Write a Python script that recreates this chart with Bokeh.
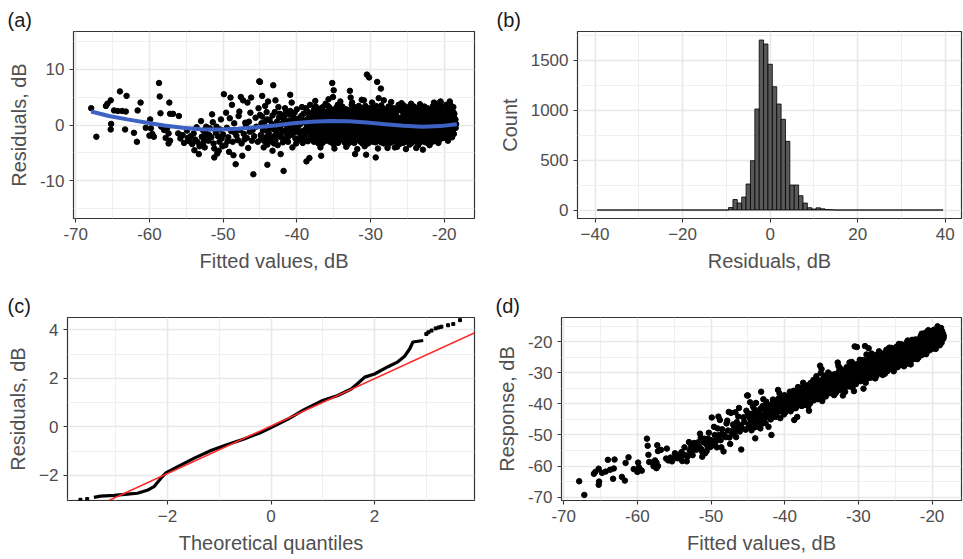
from bokeh.plotting import figure
from bokeh.layouts import column, row
from bokeh.models import FixedTicker, Range1d, Slope
from bokeh.embed import file_html
from bokeh.resources import INLINE

FONT = "Liberation Sans"

# ---------------- data: fitted values (dB) and residuals (dB) ----------------
pts_sparse = [
    (-67.9, 3.0), (-67.2, -2.1), (-65.9, 3.4), (-65.7, 3.8), (-65.25, 4.4), (-64.8, 2.6), (-65.2, 0.2),
    (-65.25, -0.8), (-64.0, 6.0), (-63.1, 5.2), (-64.3, 2.5), (-63.3, -0.8), (-63.7, 2.5), (-63.2, 2.4),
    (-62.1, -1.4), (-61.7, -3.0), (-61.2, 4.0), (-61.6, 2.6), (-60.5, -0.5), (-59.9, 1.0), (-59.8, -0.6),
    (-59.6, -1.6), (-59.4, -2.1), (-60.0, -1.9), (-58.7, 7.5), (-58.6, 5.1), (-58.5, 2.1), (-58.4, -0.3),
    (-58.0, -0.9), (-57.6, -0.6), (-57.4, -1.5), (-57.8, -2.3), (-57.3, 4.0), (-57.2, 2.0), (-56.8, 2.0),
    (-57.2, -2.8), (-57.4, -3.3), (-56.0, 1.6), (-56.1, -1.5), (-55.8, -2.4), (-55.5, -1.8), (-55.3, -3.2),
    (-54.9, -1.0), (-54.8, -2.3), (-54.6, -2.9), (-54.4, -2.0),
]
pts_mid = [
    (-53.0, 0.7), (-53.5, -3.0), (-53.2, -3.8), (-53.3, -5.2), (-52.7, -3.2), (-52.5, -4.0), (-52.7, -1.0),
    (-52.4, -1.3), (-52.2, -1.7), (-51.5, 1.9), (-51.2, -5.8), (-50.9, -0.3), (-50.7, -2.0), (-50.5, -3.0),
    (-50.4, -0.8), (-50.2, -2.4), (-49.9, 5.5), (-51.2, -4.2), (-50.8, -5.1), (-49.0, 4.9), (-48.3, -7.0),
    (-47.6, 5.0), (-47.4, -5.5), (-46.7, 4.0), (-46.3, 2.2), (-46.5, 0.6), (-46.0, -0.9), (-46.1, -2.8),
    (-45.9, -8.8), (-45.1, 7.8), (-54.0, -1.5), (-53.8, -2.6), (-53.6, -0.4), (-52.9, -2.1), (-52.0, -2.8),
    (-51.8, -0.6), (-51.6, -2.2), (-51.3, -3.3), (-51.0, -1.4), (-50.0, -1.7), (-49.7, -3.6), (-49.5, -0.5),
    (-49.3, -2.2), (-49.1, 1.2), (-48.9, -1.1), (-48.7, -3.0), (-48.5, 0.3), (-48.2, -1.9), (-48.0, -2.7),
    (-47.8, 2.4), (-47.7, -0.9), (-47.5, -3.3), (-47.2, -1.6), (-47.0, 0.4), (-46.8, -2.3), (-46.6, -4.1),
    (-46.4, -1.2), (-45.8, -2.0), (-45.6, 1.3), (-45.5, -0.3), (-45.3, -3.0), (-45.2, 3.0), (-49.6, 2.2),
    (-48.8, 3.6), (-47.9, 1.6), (-50.3, 1.0), (-51.4, 0.5), (-52.3, -0.3), (-53.9, -4.5), (-50.6, -4.6),
    (-49.2, -4.8), (-48.6, -5.4), (-47.3, 4.4), (-46.2, 4.9), (-49.4, -2.9), (-48.4, -1.4), (-47.1, -2.6),
    (-46.9, -0.2), (-50.1, -3.8), (-52.6, -2.5), (-51.9, -1.8), (-54.2, -3.4),
]
pts_band = [
    (-45.0, 7.7), (-43.2, 7.1), (-44.7, 5.2), (-44.0, -7.1), (-41.8, -8.2), (-42.2, -5.2), (-40.9, 5.4),
    (-44.3, 3.4), (-44.0, 1.0), (-43.8, -1.5), (-43.6, -2.9), (-43.4, 0.2), (-43.0, 2.3), (-42.8, -1.0),
    (-42.6, -3.6), (-42.4, 1.4), (-42.1, -2.2), (-41.9, 0.4), (-41.6, 3.0), (-41.4, -1.5), (-41.2, -3.0),
    (-41.0, 1.9), (-40.8, -0.6), (-40.6, -4.0), (-40.4, 0.9), (-40.2, -2.4), (-40.0, 2.8), (-39.8, -0.2),
    (-39.6, -1.4), (-39.4, 1.6), (-39.2, -3.2), (-39.0, 0.5), (-38.8, -1.8), (-38.6, 2.5), (-38.4, -0.9),
    (-38.3, -5.9), (-38.7, -6.5), (-38.2, 3.6), (-44.5, -4.0), (-44.2, -2.2), (-43.9, 4.2), (-43.3, -4.6),
    (-42.9, 4.4), (-42.3, -0.5), (-41.7, -2.6), (-41.5, 2.3), (-40.7, 4.0), (-40.3, -1.3), (-39.9, -2.8),
    (-39.3, 3.2), (-38.9, -2.6), (-38.5, 1.1), (-44.8, 0.3), (-44.6, -1.0), (-43.7, -0.5), (-42.7, -2.0),
    (-41.3, 0.0), (-40.1, -0.9), (-39.1, -1.0), (-38.6, 0.0), (-44.9, -2.6), (-43.1, -3.3), (-42.0, -1.2),
    (-41.1, -2.0), (-40.5, 1.5), (-39.7, 0.9), (-38.1, -2.3), (-45.0, 1.8), (-44.0, -3.5), (-42.5, 3.2),
    (-41.8, 1.0), (-40.9, -0.9), (-39.5, -2.0), (-38.0, 0.8),
]
pts_band2 = [
    (-44.9, -1.8), (-44.7, 1.5), (-44.5, -0.4), (-44.3, -3.0), (-44.1, 2.3), (-43.9, -1.2), (-43.7, 0.9),
    (-43.5, -2.3), (-43.3, 1.7), (-43.1, -0.8), (-42.9, -2.7), (-42.7, 0.6), (-42.5, -1.6), (-42.3, 2.0),
    (-42.1, 0.0), (-41.9, -3.1), (-41.7, 1.6), (-41.5, -0.9), (-41.3, -2.3), (-41.1, 0.8), (-40.9, 2.5),
    (-40.7, -1.7), (-40.5, -0.2), (-40.3, 2.2), (-40.1, -3.3), (-39.9, 1.1), (-39.7, -1.1), (-39.5, 0.2),
    (-39.3, -2.5), (-39.1, 2.0), (-38.9, 0.8), (-38.7, -0.6), (-38.5, -2.9), (-38.3, 1.8), (-38.1, -1.3),
    (-44.4, 0.5), (-43.0, -1.9), (-41.6, 0.3), (-40.2, 0.5), (-38.8, 3.0),
]
pts_dense = [
    (-37.95, -2.1), (-37.88, 1.4), (-37.8, -0.4), (-37.72, 2.6), (-37.66, -3.0), (-37.58, 0.6), (-37.5, -1.3),
    (-37.44, 3.3), (-37.37, -2.6), (-37.3, 0.1), (-37.22, 1.9), (-37.16, -0.9), (-37.08, -1.8), (-37.02, 0.9),
    (-36.96, 2.9), (-36.9, -0.2), (-36.82, -2.4), (-36.75, 1.2), (-36.68, -1.1), (-36.6, 0.5), (-36.52, -3.2),
    (-36.45, 2.1), (-36.38, -0.7), (-36.3, 1.6), (-36.24, -1.9), (-36.17, 0.2), (-36.1, 3.8), (-36.03, -2.8),
    (-36.7, -5.5),
    (-35.97, 0.8), (-35.9, -1.5), (-35.83, 2.4), (-35.76, -0.3), (-35.7, -2.7), (-35.62, 1.7), (-35.55, 3.1),
    (-35.48, -1.0), (-35.4, 0.3), (-35.33, -2.2), (-35.26, 1.0), (-35.18, -0.6), (-35.12, 2.0), (-35.05, -3.4),
    (-35.2, 7.5), (-35.0, 6.2), (-35.1, 5.0),
    (-34.95, -1.7), (-34.88, 0.5), (-34.8, 2.8), (-34.73, -0.5), (-34.66, 1.3), (-34.6, -2.9), (-34.52, -0.1),
    (-34.45, 3.6), (-34.38, -1.2), (-34.3, 0.9), (-34.22, -2.3), (-34.15, 2.2), (-34.08, -0.8), (-34.02, 1.6),
    (-33.96, -2.6), (-33.9, 0.2), (-33.82, 1.9), (-33.75, -1.4), (-33.68, 3.0), (-33.6, -0.4), (-33.54, -3.1),
    (-33.46, 1.1), (-33.4, -1.9), (-33.32, 0.7), (-33.25, 2.5), (-33.18, -0.9), (-33.1, -2.0), (-33.03, 1.4),
    (-32.97, 0.0), (-32.9, -2.2), (-32.83, 2.7), (-32.76, -1.1), (-32.7, 4.9), (-32.8, 6.1), (-32.62, 1.5),
    (-32.55, -3.0), (-32.48, 0.4), (-32.41, -0.6), (-32.34, 3.3), (-32.27, -1.7), (-32.2, 1.0), (-32.1, -5.2),
    (-32.13, -2.6), (-32.05, 2.0),
    (-31.96, -0.3), (-31.9, 1.8), (-31.82, -2.0), (-31.75, 0.6), (-31.68, -1.3), (-31.6, 3.4), (-31.53, -2.8),
    (-31.46, 1.2), (-31.4, -0.7), (-31.32, 2.3), (-31.25, -1.6), (-31.18, 0.1), (-31.1, -3.3), (-31.04, 1.6),
    (-30.97, 0.9), (-30.9, -1.9), (-30.83, 2.6), (-30.76, -0.2), (-30.9, 4.4), (-30.7, -2.5), (-30.62, 1.4),
    (-30.6, -5.3), (-30.5, 9.0), (-30.2, 8.5), (-30.55, -0.9), (-30.48, 3.0), (-30.4, -1.4), (-30.33, 0.3),
    (-30.26, -2.9), (-30.2, 1.9), (-30.12, -0.5), (-30.05, 2.2),
    (-29.96, -1.2), (-29.9, 0.6), (-29.82, -2.6), (-29.75, 1.6), (-29.68, -0.4), (-29.6, 3.2), (-29.53, -1.8),
    (-29.46, 0.0), (-29.4, 2.4), (-29.32, -3.1), (-29.3, -5.8), (-29.1, 7.7), (-28.6, 6.5), (-29.25, 1.1),
    (-29.18, -0.9), (-29.1, -2.2), (-29.04, 0.8),
    (-28.97, 2.0), (-28.9, -1.5), (-28.83, 0.4), (-28.76, -2.8), (-28.7, 1.3), (-28.62, -0.6), (-28.55, 3.5),
    (-28.48, -2.1), (-28.41, 0.2), (-28.34, 1.8), (-28.27, -1.1), (-28.2, 4.4), (-28.2, -3.3), (-28.13, 0.9),
    (-28.05, -0.2),
    (-27.96, -2.4), (-27.9, 1.5), (-27.82, -0.8), (-27.75, 2.7), (-27.68, -1.6), (-27.6, 0.3), (-27.53, -3.4),
    (-27.46, 1.0), (-27.4, -0.3), (-27.32, 3.1), (-27.25, -2.0), (-27.18, 0.6), (-27.1, -1.2), (-27.04, 2.1),
    (-26.97, -0.7), (-26.9, 1.9), (-26.83, -2.5), (-26.76, 0.1), (-26.7, -4.0), (-26.62, 2.8), (-26.55, -1.4),
    (-26.48, 0.8), (-26.41, -3.0), (-26.34, 1.4), (-26.27, -0.1), (-26.2, 3.6), (-26.13, -1.9), (-26.05, 0.4),
    (-25.96, 1.2), (-25.9, -2.2), (-25.82, 0.5), (-25.75, -1.0), (-25.68, 2.4), (-25.6, -3.2), (-25.53, -0.5),
    (-25.46, 1.7), (-25.4, -1.7), (-25.32, 3.0), (-25.25, 0.0), (-25.18, -2.7), (-25.1, 0.9), (-25.04, -0.9),
    (-24.97, 2.2), (-24.9, -0.3), (-24.83, -2.0), (-24.76, 1.1), (-24.7, -3.5), (-24.62, 0.3), (-24.55, 2.8),
    (-24.48, -1.3), (-24.41, 0.7), (-24.34, -2.4), (-24.27, 1.6), (-24.2, -0.6), (-24.13, 3.3), (-24.05, -1.6),
    (-23.96, -2.9), (-23.9, 0.8), (-23.82, -0.8), (-23.75, 2.0), (-23.68, -1.8), (-23.6, 0.2), (-23.53, -3.6),
    (-23.46, 1.4), (-23.4, -0.2), (-23.32, 2.6), (-23.25, -2.3), (-23.18, -1.0), (-23.1, 0.5), (-23.04, 1.8),
    (-22.97, -1.4), (-22.9, 0.1), (-22.83, 2.3), (-22.76, -2.7), (-22.7, 1.0), (-22.62, -0.6), (-22.55, -3.1),
    (-22.48, 1.9), (-22.41, -1.7), (-22.34, 0.4), (-22.27, 3.0), (-22.2, -2.2), (-22.13, -0.3), (-22.05, 1.3),
    (-21.96, 2.7), (-21.9, -0.9), (-21.82, -2.5), (-21.75, 0.6), (-21.68, 1.6), (-21.6, -1.6), (-21.53, 3.4),
    (-21.46, -0.1), (-21.4, -2.9), (-21.32, 1.1), (-21.25, -0.7), (-21.18, 2.2), (-21.1, -1.9), (-21.04, 0.3),
    (-20.97, -2.1), (-20.9, 3.8), (-20.83, 0.9), (-20.76, -0.5), (-20.7, 2.5), (-20.62, -1.3), (-20.55, 4.1),
    (-20.5, 4.2), (-20.48, 0.2), (-20.41, -2.4), (-20.34, 1.5), (-20.27, -0.8), (-20.2, 3.2), (-20.13, -1.6),
    (-20.05, 0.7),
    (-19.96, 2.0), (-19.9, -1.1), (-19.82, 0.4), (-19.75, 3.6), (-19.68, -2.0), (-19.6, 1.2), (-19.53, -0.4),
    (-19.46, 2.8), (-19.4, -1.5), (-19.32, 0.8), (-19.25, 4.2), (-19.18, -0.9), (-19.1, 1.7), (-19.04, 3.0),
    (-18.96, 0.5), (-18.9, -1.2), (-18.82, 2.4), (-18.75, 0.0), (-18.68, 1.3), (-18.6, -0.6), (-18.52, 0.9),
    (-18.45, -0.5), (-18.4, 0.2), (-18.95, -2.2),
]
pts_dense2 = [
    (-37.98, 0.3), (-37.91, -1.6), (-37.84, 2.2), (-37.77, -2.8), (-37.7, 1.1), (-37.63, -0.6), (-37.56, 3.0),
    (-37.49, -2.3), (-37.42, 0.8), (-37.35, -1.1), (-37.28, 2.5), (-37.21, -0.2), (-37.14, 1.6), (-37.07, -3.3),
    (-36.98, -1.4), (-36.91, 1.9), (-36.84, -0.1), (-36.77, 2.6), (-36.7, -2.0), (-36.63, 0.9), (-36.56, -0.8),
    (-36.49, 3.2), (-36.42, -2.7), (-36.35, 0.4), (-36.28, -1.5), (-36.21, 2.3), (-36.14, -0.4), (-36.07, 1.2),
    (-35.98, -2.5), (-35.91, 1.3), (-35.84, -0.9), (-35.77, 3.4), (-35.7, 0.0), (-35.63, -1.8), (-35.56, 2.0),
    (-35.49, -3.0), (-35.42, 1.5), (-35.35, -0.5), (-35.28, 2.7), (-35.21, -1.3), (-35.14, 0.6), (-35.07, -2.0),
    (-34.98, 1.0), (-34.91, -2.5), (-34.84, 0.0), (-34.77, 1.9), (-34.7, -1.9), (-34.63, 3.1), (-34.56, -0.7),
    (-34.49, 1.2), (-34.42, -3.2), (-34.35, 2.5), (-34.28, -1.0), (-34.21, 0.4), (-34.14, -2.0), (-34.07, 3.2),
    (-33.98, 1.6), (-33.91, -0.8), (-33.84, 3.3), (-33.77, -2.2), (-33.7, 0.4), (-33.63, -1.5), (-33.56, 2.1),
    (-33.49, -0.3), (-33.42, 1.0), (-33.35, -2.7), (-33.28, 2.8), (-33.21, -1.2), (-33.14, 0.2), (-33.07, -3.4),
    (-32.98, -3.0), (-32.91, 1.3), (-32.84, -0.4), (-32.77, 2.0), (-32.7, -1.6), (-32.63, 0.7), (-32.56, 3.6),
    (-32.49, -2.4), (-32.42, 1.6), (-32.35, -0.9), (-32.28, 2.5), (-32.21, -3.2), (-32.14, 0.0), (-32.07, -1.3),
    (-31.98, 2.6), (-31.91, -1.0), (-31.84, 0.3), (-31.77, -2.5), (-31.7, 1.5), (-31.63, -0.2), (-31.56, 2.1),
    (-31.49, -1.8), (-31.42, 0.9), (-31.35, -3.0), (-31.28, 3.0), (-31.21, -0.7), (-31.14, 1.1), (-31.07, -2.2),
    (-30.98, -2.6), (-30.91, 0.5), (-30.84, -1.2), (-30.77, 1.8), (-30.7, 3.4), (-30.63, -0.5), (-30.56, 2.3),
    (-30.49, -2.0), (-30.42, 0.9), (-30.35, -3.3), (-30.28, 1.4), (-30.21, -1.0), (-30.14, 3.0), (-30.07, -0.1),
    (-29.98, 0.2), (-29.91, 2.5), (-29.84, -1.7), (-29.77, 0.9), (-29.7, -3.0), (-29.63, 1.9), (-29.56, -0.6),
    (-29.49, -2.4), (-29.42, 1.3), (-29.35, -1.0), (-29.28, 3.4), (-29.21, -0.2), (-29.14, 2.0), (-29.07, -2.8),
    (-28.98, -0.5), (-28.91, 1.0), (-28.84, -2.3), (-28.77, 2.6), (-28.7, -1.4), (-28.63, 0.6), (-28.56, -3.1),
    (-28.49, 1.5), (-28.42, -0.8), (-28.35, 3.0), (-28.28, -1.9), (-28.21, 0.3), (-28.14, 2.2), (-28.07, -2.6),
    (-27.98, 0.7), (-27.91, -1.9), (-27.84, 2.1), (-27.77, -0.3), (-27.7, 1.2), (-27.63, -2.7), (-27.56, 3.3),
    (-27.49, -1.0), (-27.42, 0.2), (-27.35, -2.3), (-27.28, 1.8), (-27.21, -0.6), (-27.14, 2.6), (-27.07, -3.0),
    (-26.98, 1.5), (-26.91, -1.1), (-26.84, 3.0), (-26.77, -2.0), (-26.7, 0.5), (-26.63, -0.9), (-26.56, 2.2),
    (-26.49, -2.8), (-26.42, 0.0), (-26.35, -1.7), (-26.28, 2.6), (-26.21, -0.4), (-26.14, 1.1), (-26.07, -3.4),
    (-25.98, -1.3), (-25.91, 2.9), (-25.84, -2.8), (-25.77, 0.2), (-25.7, -0.6), (-25.63, 1.5), (-25.56, -2.1),
    (-25.49, 3.5), (-25.42, -0.2), (-25.35, 1.0), (-25.28, -3.0), (-25.21, 2.0), (-25.14, -1.2), (-25.07, 0.6),
    (-24.98, -2.7), (-24.91, 0.9), (-24.84, 3.2), (-24.77, -0.8), (-24.7, 1.8), (-24.63, -2.0), (-24.56, 0.0),
    (-24.49, 2.4), (-24.42, -3.2), (-24.35, 1.3), (-24.28, -1.0), (-24.21, 2.8), (-24.14, -0.3), (-24.07, 0.5),
    (-23.98, 1.1), (-23.91, -2.2), (-23.84, 2.6), (-23.77, -0.5), (-23.7, 0.6), (-23.63, -2.8), (-23.56, 1.9),
    (-23.49, -1.3), (-23.42, 3.2), (-23.35, -0.1), (-23.28, -1.9), (-23.21, 1.0), (-23.14, -3.0), (-23.07, 2.3),
    (-22.98, 0.6), (-22.91, -2.3), (-22.84, 1.6), (-22.77, -0.9), (-22.7, 3.3), (-22.63, -1.9), (-22.56, 0.3),
    (-22.49, -2.6), (-22.42, 2.6), (-22.35, -1.1), (-22.28, 1.2), (-22.21, -0.1), (-22.14, -3.3), (-22.07, 2.0),
    (-21.98, -1.5), (-21.91, 1.3), (-21.84, -3.2), (-21.77, 2.4), (-21.7, -0.4), (-21.63, 0.8), (-21.56, -2.2),
    (-21.49, 2.9), (-21.42, -1.0), (-21.35, 0.1), (-21.28, -2.6), (-21.21, 1.8), (-21.14, -0.6), (-21.07, 3.5),
    (-20.98, 1.2), (-20.91, -1.5), (-20.84, 2.8), (-20.77, -2.8), (-20.7, 0.4), (-20.63, 3.4), (-20.56, -0.9),
    (-20.49, 1.8), (-20.42, -1.8), (-20.35, 0.0), (-20.28, 2.2), (-20.21, -2.3), (-20.14, 1.0), (-20.07, -0.3),
    (-19.98, -0.5), (-19.91, 1.6), (-19.84, -2.3), (-19.77, 0.9), (-19.7, 2.4), (-19.63, -1.2), (-19.56, 3.3),
    (-19.49, 0.1), (-19.42, -1.9), (-19.35, 1.9), (-19.28, -0.7), (-19.21, 3.7), (-19.14, 0.5), (-19.07, -1.4),
    (-18.98, 1.8), (-18.91, 0.2), (-18.84, -0.8), (-18.77, 3.2), (-18.7, -1.6), (-18.63, 2.0), (-18.56, -0.2),
    (-18.49, 1.0),
]
pts_fringe = [
    (-37.5, 4.3), (-36.8, -4.0), (-35.7, 4.6), (-34.9, -4.2), (-34.1, 4.2), (-33.3, -3.9), (-32.5, 4.0),
    (-31.8, -4.3), (-31.2, 4.5), (-30.8, -3.8), (-29.8, 4.0), (-29.0, -4.2), (-28.9, 4.8), (-27.7, -4.1),
    (-27.2, 4.1), (-26.4, -3.9), (-25.8, 3.9), (-25.2, -4.3), (-24.5, 3.8), (-23.8, -4.1), (-22.9, -4.4),
    (-23.3, 3.7), (-22.0, -3.6), (-21.4, 4.0), (-20.8, -3.2), (-19.5, -2.8),
]
all_pts = pts_sparse + pts_mid + pts_band + pts_band2 + pts_dense + pts_dense2 + pts_fringe
fitted = [p[0] for p in all_pts]
residuals = [p[1] for p in all_pts]
# panel (d): response = fitted value + residual (same observations as panel (a))
response = [f + r for f, r in zip(fitted, residuals)]

# loess smooth in (a)
smooth_fitted = [-67.9, -65.5, -63.0, -60.5, -58.0, -55.5, -53.0, -50.5, -48.0, -45.5, -43.0,
                 -40.5, -38.0, -35.5, -33.0, -30.5, -28.0, -25.5, -23.0, -20.5, -18.3]
smooth_resid = [2.4, 1.6, 1.0, 0.45, -0.1, -0.5, -0.75, -0.8, -0.65, -0.4, -0.1,
                0.3, 0.6, 0.7, 0.65, 0.45, 0.15, -0.15, -0.3, -0.2, 0.15]

# (b) histogram: bin centres (width 1 dB) and counts; all other bins from -39 to 39 are empty
hist_centres = [-9, -8, -7, -6, -5, -4, -3, -2, -1, 0, 1, 2, 3, 4, 5, 6, 7, 8, 9, 10, 11, 12, 13, 14]
hist_counts = [25, 105, 70, 130, 260, 493, 1010, 1700, 1660, 1457, 1233, 1060, 907, 687,
               250, 250, 143, 70, 23, 10, 22, 12, 5, 3]
hist_span = (-39, 39)

# (c) normal QQ plot
qq_theoretical = [-3.42, -3.29, -3.03, -2.77, -2.58, -2.39, -2.26, -2.13, -2.03, -1.81, -1.48,
                  -1.16, -0.84, -0.52, -0.19, 0.0, 0.32, 0.65, 0.97, 1.29, 1.55, 1.68, 1.81,
                  2.0, 2.26, 2.45, 2.58, 2.68, 2.74, 2.94]
qq_sample = [-2.91, -2.86, -2.83, -2.78, -2.74, -2.62, -2.47, -2.13, -1.90, -1.65, -1.29,
             -0.98, -0.73, -0.50, -0.23, -0.03, 0.31, 0.72, 1.06, 1.29, 1.56, 1.80, 2.05,
             2.18, 2.48, 2.68, 2.91, 3.22, 3.50, 3.56]
qq_tail_theoretical = [-3.68, -3.55, 3.0, 3.04, 3.10, 3.18, 3.24, 3.29, 3.42, 3.52, 3.65]
qq_tail_sample = [-3.01, -2.98, 3.83, 3.90, 3.97, 4.06, 4.10, 4.13, 4.19, 4.24, 4.40]
qq_line_intercept = 0.03
qq_line_slope = 0.98

# ---------------- styling helpers ----------------
def fmt(v, minus):
    s = str(int(v)) if float(v).is_integer() else str(v)
    return s.replace("-", "\u2212") if minus else s


def make_fig(w, h, xr, yr, borders, tag, tag_offset):
    l, r, t, b = borders
    p = figure(width=w, height=h, x_range=Range1d(*xr), y_range=Range1d(*yr),
               output_backend="svg", toolbar_location=None,
               min_border_left=l, min_border_right=r, min_border_top=t, min_border_bottom=b,
               title=tag)
    p.title.text_font = FONT
    p.title.text_font_size = "20px"
    p.title.text_font_style = "normal"
    p.title.text_color = "#1a1a1a"
    p.title.align = "left"
    p.title.offset = tag_offset
    p.title.standoff = 2
    p.outline_line_color = "#333333"
    p.outline_line_width = 1.2
    p.background_fill_color = "white"
    p.border_fill_color = "white"
    for ax in (p.xaxis[0], p.yaxis[0]):
        ax.axis_line_color = None
        ax.major_tick_line_color = "#333333"
        ax.major_tick_line_width = 1.1
        ax.major_tick_out = 4
        ax.major_tick_in = 0
        ax.minor_tick_line_color = None
        ax.major_label_text_font = FONT
        ax.major_label_text_font_size = "17px"
        ax.major_label_text_color = "#4d4d4d"
        ax.major_label_standoff = 5
        ax.axis_label_text_font = FONT
        ax.axis_label_text_font_size = "20px"
        ax.axis_label_text_font_style = "normal"
        ax.axis_label_text_color = "#505050"
        ax.axis_label_standoff = 7
    for g in (p.xgrid[0], p.ygrid[0]):
        g.grid_line_color = "#e8e8e8"
        g.grid_line_width = 1.6
        g.minor_grid_line_color = "#efefef"
        g.minor_grid_line_width = 1.0
    return p


def set_ticks(axis, ticks, minor, minus):
    axis.ticker = FixedTicker(ticks=ticks, minor_ticks=minor)
    axis.major_label_overrides = {float(t): fmt(t, minus) for t in ticks}


# ---------------- (a) residuals vs fitted ----------------
pa = make_fig(481, 280, (-70.3, -15.9), (-16.7, 16.7), (73, 7, 30, 62), "(a)", -66)
set_ticks(pa.xaxis[0], [-70, -60, -50, -40, -30, -20], [-65, -55, -45, -35, -25, -15], False)
set_ticks(pa.yaxis[0], [-10, 0, 10], [-15, -5, 5, 15], False)
pa.xaxis.axis_label = "Fitted values, dB"
pa.yaxis.axis_label = "Residuals, dB"
pa.scatter(fitted, residuals, size=5.5, color="black")
pa.line(smooth_fitted, smooth_resid, line_color="#3d62c4", line_width=4)

# ---------------- (b) histogram ----------------
pb = make_fig(482, 280, (-44.0, 43.7), (-85, 1785), (96, 2, 31, 61), "(b)", -81)
set_ticks(pb.xaxis[0], [-40, -20, 0, 20, 40], [-30, -10, 10, 30], True)
set_ticks(pb.yaxis[0], [0, 500, 1000, 1500], [250, 750, 1250, 1750], False)
pb.xaxis.axis_label = "Residuals, dB"
pb.yaxis.axis_label = "Count"
cmap = dict(zip(hist_centres, hist_counts))
all_centres = list(range(hist_span[0], hist_span[1] + 1))
all_counts = [cmap.get(c, 0) for c in all_centres]
pb.quad(left=[c - 0.5 for c in all_centres], right=[c + 0.5 for c in all_centres],
        bottom=0, top=all_counts, fill_color="#595959", line_color="black", line_width=0.8)

# ---------------- (c) QQ plot ----------------
pc = make_fig(481, 279, (-3.93, 3.93), (-3.04, 4.51), (67, 7, 37, 56), "(c)", -60)
set_ticks(pc.xaxis[0], [-2, 0, 2], [-3, -1, 1, 3], True)
set_ticks(pc.yaxis[0], [-2, 0, 2, 4], [-3, -1, 1, 3], True)
pc.xaxis.axis_label = "Theoretical quantiles"
pc.yaxis.axis_label = "Residuals, dB"
pc.line(qq_theoretical, qq_sample, line_color="black", line_width=3.2)
pc.scatter(qq_tail_theoretical, qq_tail_sample, marker="square", size=3, color="black")
pc.add_layout(Slope(gradient=qq_line_slope, y_intercept=qq_line_intercept,
                    line_color="#ff2a2a", line_width=1.6))

# ---------------- (d) response vs fitted ----------------
pd_ = make_fig(482, 279, (-70.3, -16.0), (-71.1, -12.2), (80, 2, 37, 59), "(d)", -66)
set_ticks(pd_.xaxis[0], [-70, -60, -50, -40, -30, -20], [-65, -55, -45, -35, -25, -15], False)
set_ticks(pd_.yaxis[0], [-70, -60, -50, -40, -30, -20], [-65, -55, -45, -35, -25, -15], False)
pd_.xaxis.axis_label = "Fitted values, dB"
pd_.yaxis.axis_label = "Response, dB"
pd_.scatter(fitted, response, size=5.5, color="black")

layout = column(row(pa, pb), row(pc, pd_))
open("out.html", "w").write(file_html(layout, INLINE))
